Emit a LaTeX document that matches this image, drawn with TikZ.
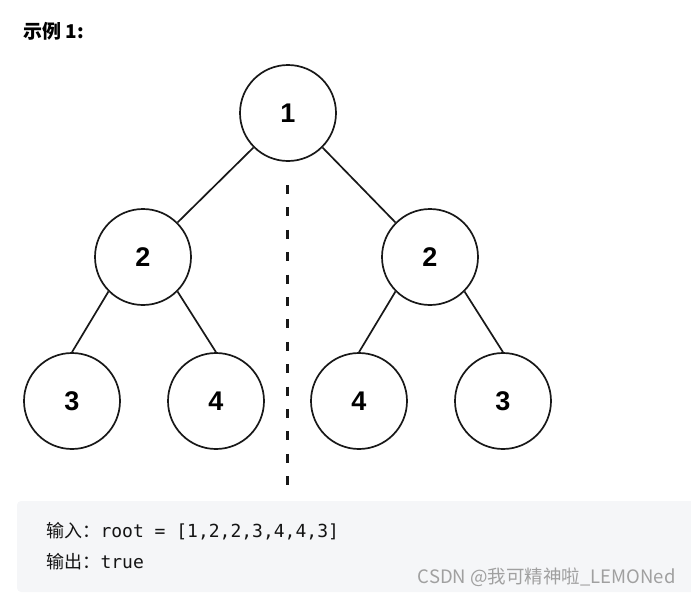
\documentclass[tikz,border=0pt]{standalone}
\usepackage{fontspec}
\usepackage{xcolor}
\usepackage{tikz}
\usetikzlibrary{positioning}
\setmainfont{Liberation Sans}
\setmonofont{DejaVu Sans Mono}
\newfontfamily\cjkfont{Noto Sans CJK SC}
\definecolor{treeline}{RGB}{24,24,24}
\definecolor{codebg}{RGB}{245,246,248}
\definecolor{codetext}{RGB}{20,20,20}
\definecolor{markgray}{RGB}{160,160,160}

\begin{document}
\begin{tikzpicture}[x=1pt,y=-1pt,
  treenode/.style={circle,draw=treeline,line width=1.7pt,minimum size=96pt,inner sep=0pt,
    font=\fontsize{27}{27}\selectfont\bfseries},
  treeedge/.style={draw=treeline,line width=1.7pt}]
\useasboundingbox (0,0) rectangle (691,595);

\node[anchor=west,font=\fontsize{19}{19}\selectfont\cjkfont\bfseries] (title) at (20,31) {示例 1:};

% tree
\node[treenode] (n1) at (288,113) {1};
\node[treenode] (n2a) at (143,257) {2};
\node[treenode] (n2b) at (430,257) {2};
\node[treenode] (n3a) at (72,401) {3};
\node[treenode] (n3b) at (216,401) {4};
\node[treenode] (n3c) at (359,401) {4};
\node[treenode] (n3d) at (503,401) {3};

\draw[treeedge] (n1.south west) -- (n2a.north east);
\draw[treeedge] (n1.south east) -- (n2b.north west);
\draw[treeedge] (n2a.south west) -- (n3a.north);
\draw[treeedge] (n2a.south east) -- (n3b.north);
\draw[treeedge] (n2b.south west) -- (n3c.north);
\draw[treeedge] (n2b.south east) -- (n3d.north);

% mirror axis
\coordinate (axisTop) at (287,185);
\coordinate (axisBot) at (287,498);
\draw[treeline,line width=3pt,dash pattern=on 9pt off 13.4pt] (axisTop) -- (axisBot);

% code box
\fill[codebg,rounded corners=4pt] (17,501) rectangle (700,592);
\node[anchor=west,text=codetext,font=\fontsize{18}{18}\selectfont] (inLine) at (43,531)
  {{\cjkfont 输入：}{\ttfamily root = [1,2,2,3,4,4,3]}};
\node[anchor=west,text=codetext,font=\fontsize{18}{18}\selectfont] (outLine) at (43,562)
  {{\cjkfont 输出：}{\ttfamily true}};
\node[anchor=east,text=markgray,font=\fontsize{18.5}{18.5}\selectfont\cjkfont] (mark) at (679,577)
  {CSDN @我可精神啦\_LEMONed};
\end{tikzpicture}
\end{document}
